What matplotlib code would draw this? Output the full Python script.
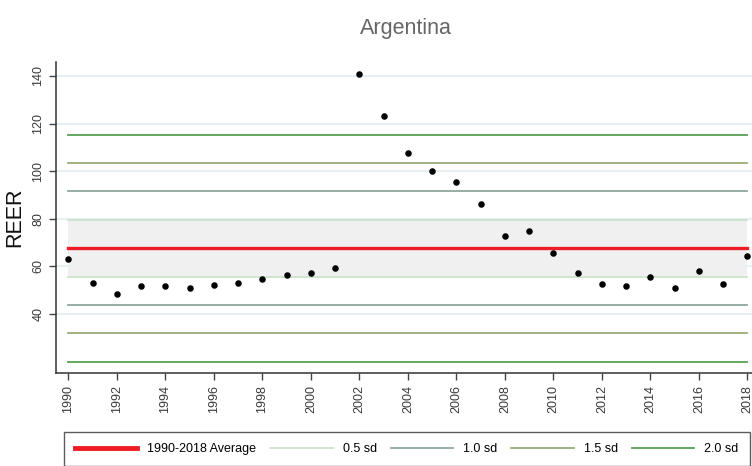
import matplotlib
matplotlib.use("Agg")
import matplotlib.pyplot as plt
import numpy as np

plt.rcParams["font.family"] = ["Liberation Sans", "DejaVu Sans"]

country = "Argentina"
years = np.arange(1990, 2019)
reer = [63.1, 53.0, 48.5, 51.9, 51.6, 51.1, 52.1, 53.2, 54.6, 56.5,
        57.2, 59.2, 141.0, 123.2, 107.6, 100.0, 95.3, 86.4, 72.6, 74.7,
        65.6, 57.2, 52.5, 51.9, 55.7, 50.8, 58.2, 52.7, 64.5]
sd_steps = [0.5, 1.0, 1.5, 2.0]
sd_labels = ["0.5 sd", "1.0 sd", "1.5 sd", "2.0 sd"]
sd_colors = ["#cde3cd", "#8ea79b", "#98ad78", "#55a055"]

reer = np.array(reer)
avg = reer.mean()
sd = reer.std(ddof=1)

fig = plt.figure(figsize=(7.52, 4.66), dpi=100)
ax = fig.add_axes([0.0745, 0.1996, 0.93, 0.668])

# light grid behind everything
for g in range(40, 141, 20):
    ax.axhline(g, color="#e6eff3", lw=1.5, zorder=0)

x0, x1 = years[0], years[-1]
ax.fill_between([x0, x1], avg - 0.5 * sd, avg + 0.5 * sd, color="#f0f0f0", lw=0, zorder=1)

handles = []
avg_line, = ax.plot([x0, x1], [avg, avg], color="#ee1c25", lw=2.4, zorder=3,
                    label="1990-2018 Average")
handles.append(avg_line)
for k, lab, col in zip(sd_steps, sd_labels, sd_colors):
    ln, = ax.plot([x0, x1], [avg + k * sd] * 2, color=col, lw=1.3, zorder=2, label=lab)
    ax.plot([x0, x1], [avg - k * sd] * 2, color=col, lw=1.3, zorder=2)
    handles.append(ln)

ax.scatter(years, reer, s=22, color="black", zorder=4, linewidths=0)

ax.set_xlim(1989.49, 2018.33)
ax.set_ylim(15.2, 146)
ax.set_yticks(range(40, 141, 20))
ax.set_xticks(range(1990, 2019, 2))
ax.tick_params(axis="both", direction="out", length=5, width=1, color="#444444",
               labelsize=9, labelcolor="#3a3a3a")
ax.tick_params(axis="x", labelrotation=90)
for t in ax.get_yticklabels():
    t.set_rotation(90)
    t.set_va("center")

for s in ["top", "right"]:
    ax.spines[s].set_visible(False)
for s in ["left", "bottom"]:
    ax.spines[s].set_color("#333333")
    ax.spines[s].set_linewidth(1.1)

ax.set_ylabel("REER", fontsize=15.5, color="#111111", labelpad=5)
ax.set_title(country, fontsize=15.5, color="#666666", pad=20)

leg = fig.legend(handles=handles, loc="upper left", ncol=5, mode="expand",
                 bbox_to_anchor=(0.0845, -0.2, 0.9125, 0.273), fontsize=9,
                 handlelength=5.0, fancybox=False, frameon=True, borderpad=0.9,
                 handletextpad=0.8, columnspacing=1.5, borderaxespad=0)
leg.get_frame().set_edgecolor("#333333")
leg.get_frame().set_linewidth(1.0)
leg.legend_handles[0].set_linewidth(3.5)

fig.savefig("out.png", dpi=100)
